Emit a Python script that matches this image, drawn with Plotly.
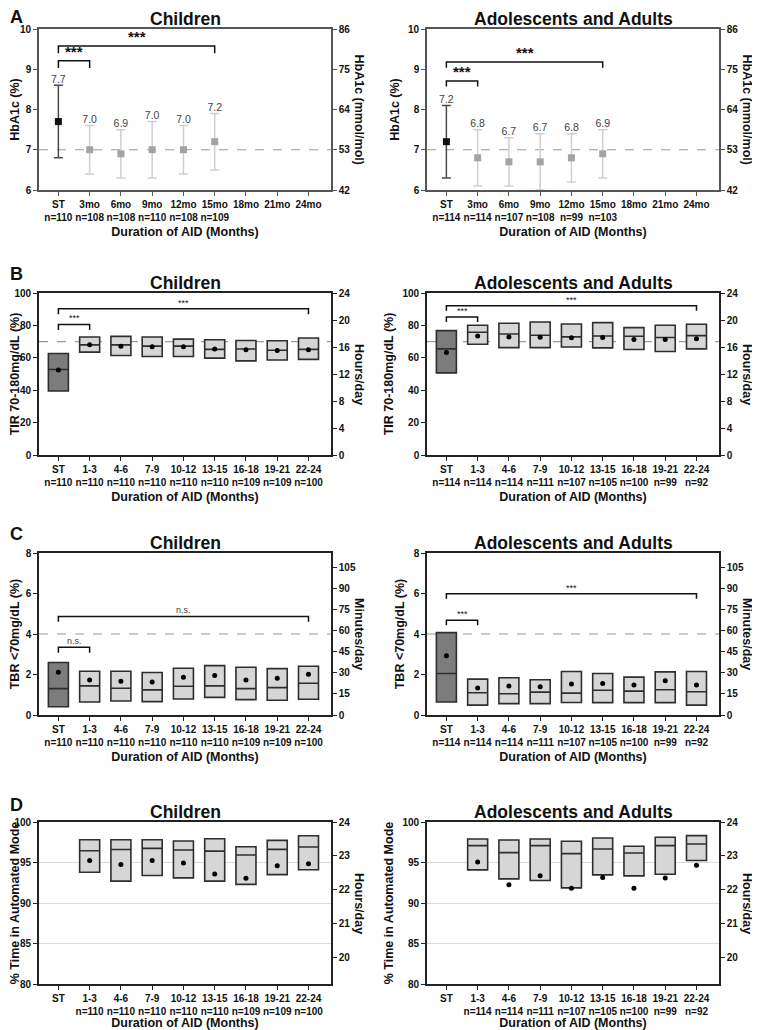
import plotly.graph_objects as go

# the page body keeps its default 8px margin, so the figure is a bit smaller
PAGE_W, PAGE_H, OFF = 760, 1030, 8
W, H = PAGE_W - OFF, PAGE_H - OFF

# ---------------- data ----------------
visits = ["ST", "3mo", "6mo", "9mo", "12mo", "15mo", "18mo", "21mo", "24mo"]
periods = ["ST", "1-3", "4-6", "7-9", "10-12", "13-15", "16-18", "19-21", "22-24"]

n_child_a = [110, 108, 108, 110, 108, 109]
n_adult_a = [114, 114, 107, 108, 99, 103]
n_child = [110, 110, 110, 110, 110, 110, 109, 109, 100]
n_adult = [114, 114, 114, 111, 107, 105, 100, 99, 92]

# HbA1c (%) mean with lower / upper whisker
hba1c_child = [7.7, 7.0, 6.9, 7.0, 7.0, 7.2]
hba1c_child_lo = [6.8, 6.4, 6.3, 6.3, 6.4, 6.5]
hba1c_child_hi = [8.6, 7.6, 7.5, 7.7, 7.6, 7.9]
hba1c_adult = [7.2, 6.8, 6.7, 6.7, 6.8, 6.9]
hba1c_adult_lo = [6.3, 6.1, 6.1, 6.0, 6.2, 6.3]
hba1c_adult_hi = [8.1, 7.5, 7.3, 7.4, 7.4, 7.5]

# TIR 70-180 (%): q1, median, q3, mean
tir_child_q1 = [39.5, 63.5, 61.4, 60.8, 60.8, 59.8, 58.1, 58.6, 59.0]
tir_child_med = [52.8, 68.0, 68.0, 67.2, 67.2, 65.2, 65.4, 64.7, 65.2]
tir_child_q3 = [62.7, 72.8, 73.2, 72.8, 71.5, 71.1, 70.7, 70.5, 72.2]
tir_child_mean = [52.5, 68.0, 67.2, 66.8, 66.8, 65.4, 65.0, 64.5, 65.0]
tir_adult_q1 = [50.7, 68.4, 66.3, 66.3, 66.7, 66.1, 65.1, 63.9, 65.5]
tir_adult_med = [65.5, 75.8, 74.7, 73.9, 72.9, 73.5, 73.3, 72.5, 73.7]
tir_adult_q3 = [76.8, 80.1, 81.3, 82.1, 80.9, 81.7, 78.6, 80.1, 80.7]
tir_adult_mean = [63.2, 73.5, 72.9, 72.7, 72.3, 72.5, 71.3, 71.3, 71.7]

# TBR <70 (%)
tbr_child_q1 = [0.41, 0.64, 0.69, 0.66, 0.79, 0.87, 0.76, 0.73, 0.78]
tbr_child_med = [1.30, 1.44, 1.32, 1.24, 1.42, 1.44, 1.30, 1.35, 1.57]
tbr_child_q3 = [2.59, 2.16, 2.16, 2.10, 2.31, 2.44, 2.36, 2.29, 2.41]
tbr_child_mean = [2.11, 1.73, 1.67, 1.63, 1.86, 1.95, 1.73, 1.82, 2.01]
tbr_adult_q1 = [0.64, 0.49, 0.56, 0.56, 0.62, 0.61, 0.61, 0.61, 0.49]
tbr_adult_med = [2.05, 1.10, 1.05, 1.13, 1.08, 1.22, 1.18, 1.25, 1.15]
tbr_adult_q3 = [4.07, 1.77, 1.84, 1.74, 2.15, 2.05, 1.87, 2.13, 2.15]
tbr_adult_mean = [2.92, 1.33, 1.43, 1.40, 1.53, 1.56, 1.48, 1.69, 1.48]

# % time in automated mode (no value at ST)
auto_child_q1 = [93.8, 92.7, 93.4, 93.1, 92.7, 92.3, 93.5, 94.1]
auto_child_med = [96.45, 96.6, 96.74, 96.54, 96.41, 95.92, 96.62, 96.91]
auto_child_q3 = [97.8, 97.8, 97.8, 97.65, 97.94, 96.95, 97.73, 98.31]
auto_child_mean = [95.26, 94.76, 95.26, 94.93, 93.57, 93.07, 94.6, 94.85]
auto_adult_q1 = [94.09, 92.98, 92.77, 91.87, 93.47, 93.35, 93.55, 95.24]
auto_adult_med = [97.08, 96.22, 97.08, 96.1, 96.67, 96.18, 97.08, 97.29]
auto_adult_q3 = [97.9, 97.78, 97.9, 97.62, 98.03, 97.0, 98.11, 98.32]
auto_adult_mean = [95.07, 92.24, 93.35, 91.83, 93.14, 91.83, 93.1, 94.66]

# significance brackets: (from, to, height, label)
sig_a_child = [(0, 1, 9.21, "***"), (0, 5, 9.58, "***")]
sig_a_adult = [(0, 1, 8.71, "***"), (0, 5, 9.18, "***")]
sig_b_child = [(0, 1, 80.6, "***"), (0, 8, 90.3, "***")]
sig_b_adult = [(0, 1, 85.2, "***"), (0, 8, 92.2, "***")]
sig_c_child = [(0, 1, 3.35, "n.s."), (0, 8, 4.87, "n.s.")]
sig_c_adult = [(0, 1, 4.68, "***"), (0, 8, 5.99, "***")]


def tick_labels(names, counts):
    out = []
    for i, nm in enumerate(names):
        if i < len(counts) and counts[i] is not None:
            out.append(f"{nm}<br>n={counts[i]}")
        else:
            out.append(nm)
    return out


FONT = "Liberation Sans, Arial, sans-serif"
tick_font = dict(family=FONT, size=10, color="#111", weight="bold")
axis_font = dict(family=FONT, size=12.5, color="#111", weight="bold")

# plot areas in page pixels
cols = [(39, 331), (427, 719)]
rows = [(29, 190), (293, 455), (553, 715), (822, 984)]

fig = go.Figure()
annotations = []
shapes = []


def px_x(v):
    return (v - OFF) / W


def px_y(v):
    return 1 - (v - OFF) / H


def setup_axes(k, col, row, cats, yrange, ytickvals, y2range, y2tickvals,
               ytitle, y2title, title, linecolor="#222", grid=False, ytitle_size=12.5):
    sx = "" if k == 1 else str(k)
    sx2 = str(k + 8)
    xd = [px_x(cols[col][0]), px_x(cols[col][1])]
    yd = [px_y(rows[row][1]), px_y(rows[row][0])]
    fig.layout["xaxis" + sx] = dict(
        domain=xd, anchor="y" + sx, type="category", categoryorder="array",
        categoryarray=cats, tickvals=cats, range=[-0.62, 8.72], automargin=False,
        showline=True, linecolor=linecolor, linewidth=1.6, mirror=True,
        ticks="outside", ticklen=4, tickwidth=1.3, tickcolor=linecolor,
        tickfont=tick_font, showgrid=False, zeroline=False,
        title=dict(text="Duration of AID (Months)", font=axis_font, standoff=5),
    )
    fig.layout["yaxis" + sx] = dict(
        domain=yd, anchor="x" + sx, range=yrange, tickvals=ytickvals, automargin=False,
        showline=True, linecolor=linecolor, linewidth=1.6,
        ticks="outside", ticklen=4, tickwidth=1.3, tickcolor=linecolor,
        tickfont=tick_font, showgrid=grid, gridcolor="#dcdcdc", gridwidth=1,
        zeroline=False,
        title=dict(text=ytitle, font=dict(axis_font, size=ytitle_size), standoff=6),
    )
    fig.layout["yaxis" + sx2] = dict(
        overlaying="y" + sx, anchor="x" + sx, side="right", range=y2range,
        tickvals=y2tickvals, showline=True, linecolor=linecolor, linewidth=1.6,
        ticks="outside", ticklen=4, tickwidth=1.3, tickcolor=linecolor, automargin=False,
        tickfont=tick_font, showgrid=False, zeroline=False,
    )
    # invisible carrier so the secondary axis is drawn
    fig.add_trace(go.Scatter(x=[cats[0], cats[-1]], y=y2range, mode="markers",
                             marker=dict(opacity=0), xaxis="x" + sx, yaxis="y" + sx2,
                             showlegend=False, hoverinfo="skip"))
    xr = cols[col][1] + 28
    annotations.append(dict(
        text=y2title, textangle=90, xref="paper", yref="paper",
        x=px_x(xr), y=(yd[0] + yd[1]) / 2, showarrow=False,
        font=axis_font, xanchor="center", yanchor="middle"))
    annotations.append(dict(
        text=title, xref="paper", yref="paper",
        x=(xd[0] + xd[1]) / 2, y=px_y(rows[row][0] - 10), showarrow=False,
        font=dict(family=FONT, size=17.5, color="#111", weight="bold"),
        xanchor="center", yanchor="middle"))
    return sx


def add_ref_line(sx, yval):
    shapes.append(dict(type="line", xref="x" + sx + " domain", yref="y" + sx,
                       x0=0, x1=1, y0=yval, y1=yval,
                       line=dict(color="#9a9a9a", width=1.2, dash="dash"), layer="below"))


def add_brackets(sx, cats, sigs, drop, size, color="#111"):
    for a, b, h, lab in sigs:
        fig.add_trace(go.Scatter(
            x=[cats[a], cats[a], cats[b], cats[b]], y=[h - drop, h, h, h - drop],
            mode="lines", line=dict(color="#111", width=1.5),
            xaxis="x" + sx, yaxis="y" + sx, showlegend=False, hoverinfo="skip"))
        annotations.append(dict(
            text=lab, xref="x" + sx, yref="y" + sx, x=(a + b) / 2, y=h,
            showarrow=False, yanchor="bottom", yshift=-1,
            font=dict(family=FONT, size=size, color=color, weight="bold" if size > 11 else "normal")))


def add_hba1c(sx, cats, mean, lo, hi):
    for idx, mcol, ecol in [(slice(0, 1), "#111111", "#4a4a4a"), (slice(1, None), "#a3a3a3", "#cfcfcf")]:
        m = mean[idx]
        fig.add_trace(go.Scatter(
            x=cats[:len(mean)][idx], y=m, mode="markers",
            marker=dict(symbol="square", size=7, color=mcol),
            error_y=dict(type="data", symmetric=False,
                         array=[h - v for h, v in zip(hi[idx], m)],
                         arrayminus=[v - l for l, v in zip(lo[idx], m)],
                         color=ecol, thickness=1.5, width=4.5),
            xaxis="x" + sx, yaxis="y" + sx, showlegend=False))
    fig.add_trace(go.Scatter(
        x=cats[:len(mean)], y=hi, mode="text", text=[f"{v:.1f}" for v in mean],
        textposition="top center", textfont=dict(family=FONT, size=10.5, color="#444"),
        xaxis="x" + sx, yaxis="y" + sx, showlegend=False, hoverinfo="skip"))


def add_boxes(sx, cats, q1, med, q3, mean, has_st=True):
    groups = []
    if has_st:
        groups.append((slice(0, 1), "#7c7c7c"))
        groups.append((slice(1, None), "#d6d6d6"))
    else:
        groups.append((slice(0, None), "#d6d6d6"))
    xs = cats[1:] if not has_st else cats
    for idx, fill in groups:
        fig.add_trace(go.Box(
            x=xs[idx], q1=q1[idx], median=med[idx], q3=q3[idx],
            lowerfence=q1[idx], upperfence=q3[idx], width=0.64,
            fillcolor=fill, line=dict(color="#2e2e2e", width=1.6), whiskerwidth=0,
            boxpoints=False, xaxis="x" + sx, yaxis="y" + sx, showlegend=False))
    fig.add_trace(go.Scatter(
        x=xs, y=mean, mode="markers", marker=dict(color="#000", size=5),
        xaxis="x" + sx, yaxis="y" + sx, showlegend=False))


# ---- panel A ----
cats = tick_labels(visits, n_child_a)
sx = setup_axes(1, 0, 0, cats, [6, 10], [6, 7, 8, 9, 10], [42, 86], [42, 53, 64, 75, 86],
                "HbA1c (%)", "HbA1c (mmol/mol)", "Children", linecolor="#555")
add_ref_line(sx, 7)
add_brackets(sx, cats, sig_a_child, 0.18, 15)
add_hba1c(sx, cats, hba1c_child, hba1c_child_lo, hba1c_child_hi)

cats = tick_labels(visits, n_adult_a)
sx = setup_axes(2, 1, 0, cats, [6, 10], [6, 7, 8, 9, 10], [42, 86], [42, 53, 64, 75, 86],
                "HbA1c (%)", "HbA1c (mmol/mol)", "Adolescents and Adults", linecolor="#555")
add_ref_line(sx, 7)
add_brackets(sx, cats, sig_a_adult, 0.14, 15)
add_hba1c(sx, cats, hba1c_adult, hba1c_adult_lo, hba1c_adult_hi)

# ---- panel B ----
cats = tick_labels(periods, n_child)
sx = setup_axes(3, 0, 1, cats, [0, 100], list(range(0, 101, 20)), [0, 24], list(range(0, 25, 4)),
                "TIR 70-180mg/dL (%)", "Hours/day", "Children")
add_ref_line(sx, 70)
add_brackets(sx, cats, sig_b_child, 3.4, 9)
add_boxes(sx, cats, tir_child_q1, tir_child_med, tir_child_q3, tir_child_mean)

cats = tick_labels(periods, n_adult)
sx = setup_axes(4, 1, 1, cats, [0, 100], list(range(0, 101, 20)), [0, 24], list(range(0, 25, 4)),
                "TIR 70-180mg/dL (%)", "Hours/day", "Adolescents and Adults")
add_ref_line(sx, 70)
add_brackets(sx, cats, sig_b_adult, 3.1, 9)
add_boxes(sx, cats, tir_adult_q1, tir_adult_med, tir_adult_q3, tir_adult_mean)

# ---- panel C ----
cats = tick_labels(periods, n_child)
sx = setup_axes(5, 0, 2, cats, [0, 8], [0, 2, 4, 6, 8], [0, 115.2], list(range(0, 106, 15)),
                "TBR &lt;70mg/dL (%)", "Minutes/day", "Children")
add_ref_line(sx, 4)
add_brackets(sx, cats, sig_c_child, 0.27, 9, color="#444")
add_boxes(sx, cats, tbr_child_q1, tbr_child_med, tbr_child_q3, tbr_child_mean)

cats = tick_labels(periods, n_adult)
sx = setup_axes(6, 1, 2, cats, [0, 8], [0, 2, 4, 6, 8], [0, 115.2], list(range(0, 106, 15)),
                "TBR &lt;70mg/dL (%)", "Minutes/day", "Adolescents and Adults")
add_ref_line(sx, 4)
add_brackets(sx, cats, sig_c_adult, 0.25, 9)
add_boxes(sx, cats, tbr_adult_q1, tbr_adult_med, tbr_adult_q3, tbr_adult_mean)

# ---- panel D ----
cats = tick_labels(periods, [None] + n_child[1:])
sx = setup_axes(7, 0, 3, cats, [80, 100], [80, 85, 90, 95, 100], [19.2, 24], [20, 21, 22, 23, 24],
                "% Time in Automated Mode", "Hours/day", "Children", grid=True)
add_boxes(sx, cats, auto_child_q1, auto_child_med, auto_child_q3, auto_child_mean, has_st=False)

cats = tick_labels(periods, [None] + n_adult[1:])
sx = setup_axes(8, 1, 3, cats, [80, 100], [80, 85, 90, 95, 100], [19.2, 24], [20, 21, 22, 23, 24],
                "% Time in Automated Mode", "Hours/day", "Adolescents and Adults", grid=True)
add_boxes(sx, cats, auto_adult_q1, auto_adult_med, auto_adult_q3, auto_adult_mean, has_st=False)

# panel letters
for lab, y in [("A", 17), ("B", 274), ("C", 534), ("D", 805)]:
    annotations.append(dict(text=lab, xref="paper", yref="paper", x=px_x(8), y=px_y(y),
                            showarrow=False, xanchor="left", yanchor="middle",
                            font=dict(family=FONT, size=18, color="#111", weight="bold")))

fig.update_layout(
    width=W, height=H, margin=dict(l=0, r=0, t=0, b=0, autoexpand=False),
    paper_bgcolor="white", plot_bgcolor="white",
    showlegend=False, boxmode="overlay",
    annotations=annotations, shapes=shapes,
    font=dict(family=FONT, color="#111"),
)

fig.write_html("out.html")
